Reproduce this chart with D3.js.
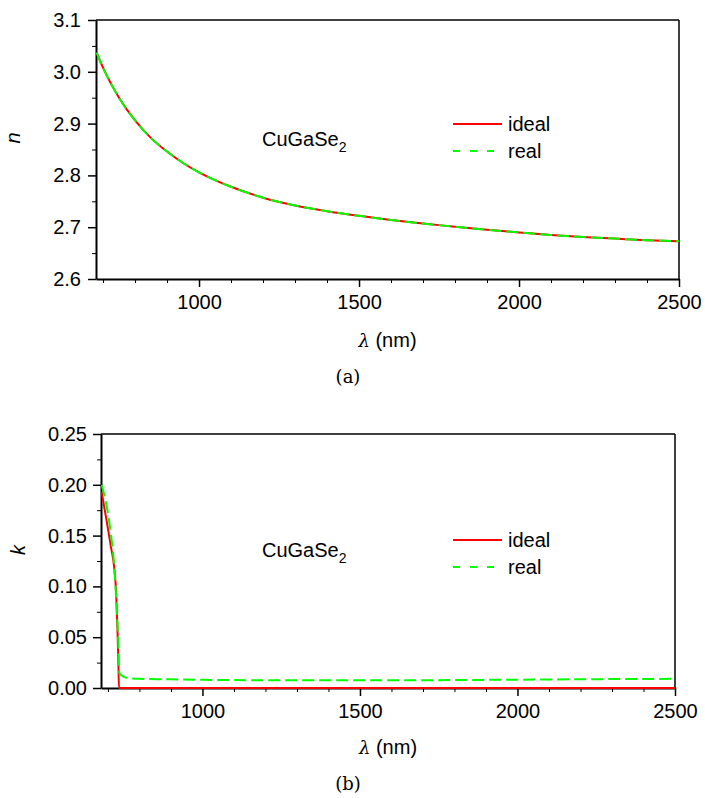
<!DOCTYPE html>
<html>
<head>
<meta charset="utf-8">
<script src="https://cdn.jsdelivr.net/npm/d3@7"></script>
<style>
  body { margin: 0; background: #fff; }
  text { font-family: "Liberation Sans", Arial, sans-serif; }
</style>
</head>
<body>
<div id="chart"></div>
<script>
// wavelength grid for n (nm)
var lambdaN = [680, 700, 750, 800, 850, 900, 950, 1000, 1050, 1100, 1200, 1300, 1400, 1500,
               1600, 1700, 1800, 1900, 2000, 2100, 2200, 2300, 2400, 2500];
var nIdeal = [3.037, 3.008, 2.950, 2.906, 2.872, 2.846, 2.824, 2.806, 2.791, 2.778, 2.757, 2.742,
              2.731, 2.722, 2.714, 2.707, 2.701, 2.695, 2.690, 2.685, 2.681, 2.678, 2.675, 2.673];
var nReal = [3.037, 3.008, 2.950, 2.906, 2.872, 2.846, 2.824, 2.806, 2.791, 2.778, 2.757, 2.742,
             2.731, 2.722, 2.714, 2.707, 2.701, 2.695, 2.690, 2.685, 2.681, 2.678, 2.675, 2.673];

// k curves
var lambdaKIdeal = [680, 690, 700, 710, 717, 722, 726, 730, 733, 735, 740, 1000, 1500, 2000, 2500];
var kIdeal = [0.193, 0.175, 0.157, 0.138, 0.126, 0.112, 0.094, 0.060, 0.028, 0.0, 0.0, 0.0, 0.0, 0.0, 0.0];
var lambdaKReal = [680, 690, 700, 710, 720, 728, 733, 736, 745, 760, 800, 900, 1000, 1200, 1500, 1800, 2000, 2200, 2500];
var kReal = [0.200, 0.188, 0.172, 0.150, 0.120, 0.077, 0.044, 0.015, 0.012, 0.010, 0.009, 0.0085,
             0.008, 0.0077, 0.0076, 0.0078, 0.0082, 0.0086, 0.009];

var xMajor = [1000, 1500, 2000, 2500];
var xMinor = [700, 800, 900, 1100, 1200, 1300, 1400, 1600, 1700, 1800, 1900, 2100, 2200, 2300, 2400];
var nMajor = [2.6, 2.7, 2.8, 2.9, 3.0, 3.1];
var nMinor = [2.65, 2.75, 2.85, 2.95, 3.05];
var kMajor = [0.00, 0.05, 0.10, 0.15, 0.20, 0.25];
var kMinor = [0.025, 0.075, 0.125, 0.175, 0.225];

var svg = d3.select("#chart").append("svg")
    .attr("width", 705)
    .attr("height", 798);

function panel(o) {
  var x = d3.scaleLinear().domain([678, 2500]).range([o.left, o.right]);
  var y = d3.scaleLinear().domain(o.ydom).range([o.bottom, o.top]);
  var g = svg.append("g");

  // frame top/right
  g.append("line").attr("x1", o.left).attr("x2", o.right).attr("y1", o.top).attr("y2", o.top)
    .attr("stroke", "#000").attr("stroke-width", 1.5);
  g.append("line").attr("x1", o.right).attr("x2", o.right).attr("y1", o.top).attr("y2", o.bottom)
    .attr("stroke", "#000").attr("stroke-width", 1.5);

  // minor ticks
  g.append("g").attr("transform", "translate(0," + o.bottom + ")")
    .call(d3.axisBottom(x).tickValues(xMinor).tickSize(4).tickFormat(""))
    .call(function(s) { s.select(".domain").remove(); });
  g.append("g").attr("transform", "translate(" + o.left + ",0)")
    .call(d3.axisLeft(y).tickValues(o.yMinor).tickSize(4).tickFormat(""))
    .call(function(s) { s.select(".domain").remove(); });

  // major axes
  var xa = g.append("g").attr("transform", "translate(0," + o.bottom + ")")
    .call(d3.axisBottom(x).tickValues(xMajor).tickSize(8).tickSizeOuter(0).tickPadding(8)
      .tickFormat(d3.format("d")));
  var ya = g.append("g").attr("transform", "translate(" + o.left + ",0)")
    .call(d3.axisLeft(y).tickValues(o.yMajor).tickSize(8).tickSizeOuter(0).tickPadding(o.ypad)
      .tickFormat(d3.format(o.yfmt)));
  [xa, ya].forEach(function(a) {
    a.selectAll("text").attr("font-size", 20).attr("fill", "#000")
      .style("font-family", "'Liberation Sans', Arial, sans-serif");
    a.selectAll("line").attr("stroke-width", 1.5);
    a.select(".domain").attr("stroke-width", 2);
  });

  var clip = "clip" + o.id;
  svg.append("clipPath").attr("id", clip).append("rect")
    .attr("x", o.left).attr("y", o.top - 2).attr("width", o.right - o.left).attr("height", o.bottom - o.top + 3);

  o.series.forEach(function(s) {
    var pts = s.lx.map(function(l, i) { return [l, s.v[i]]; });
    g.append("path").datum(pts)
      .attr("clip-path", "url(#" + clip + ")")
      .attr("fill", "none")
      .attr("stroke", s.color)
      .attr("stroke-width", 2)
      .attr("stroke-dasharray", s.dash)
      .attr("d", d3.line().curve(d3.curveMonotoneX)
        .x(function(d) { return x(d[0]); })
        .y(function(d) { return y(d[1]); }));
  });

  // y label
  g.append("text").attr("transform", "translate(" + (o.left - 76) + "," + o.ylabY + ") rotate(-90)")
    .attr("text-anchor", "middle").attr("font-size", 20).attr("font-style", "italic").text(o.ylab);

  // x label
  var xl = g.append("text").attr("x", (o.left + o.right) / 2).attr("y", o.xlabY)
    .attr("text-anchor", "middle").attr("font-size", 20);
  xl.append("tspan").attr("font-family", "'DejaVu Serif', serif").attr("font-style", "italic")
    .attr("font-size", 18).text("λ");
  xl.append("tspan").text(" (nm)");

  // compound label
  var cl = g.append("text").attr("x", 262).attr("y", o.compY).attr("font-size", 20);
  cl.append("tspan").text("CuGaSe");
  cl.append("tspan").attr("font-size", 14).attr("dy", 6).text("2");

  // legend
  var leg = [{name: "ideal", color: "#ff0000", dash: null, dy: 0},
             {name: "real", color: "#00ff00", dash: "7,10", dy: 27}];
  leg.forEach(function(l) {
    g.append("line").attr("x1", 453).attr("x2", 502)
      .attr("y1", o.legY + l.dy).attr("y2", o.legY + l.dy)
      .attr("stroke", l.color).attr("stroke-width", 2).attr("stroke-dasharray", l.dash);
    g.append("text").attr("x", 508).attr("y", o.legY + l.dy + 7).attr("font-size", 20).text(l.name);
  });

  // caption
  g.append("text").attr("x", 348).attr("y", o.capY).attr("text-anchor", "middle")
    .attr("font-size", 18).style("font-family", "'DejaVu Serif', 'Liberation Serif', serif")
    .text(o.cap);
}

panel({
  id: "a", left: 96, right: 679, top: 20, bottom: 279,
  ydom: [2.6, 3.1], yMajor: nMajor, yMinor: nMinor, yfmt: ".1f", ypad: 7,
  ylab: "n", ylabY: 138, xlabY: 347, compY: 146, legY: 124, capY: 383, cap: "(a)",
  series: [
    {lx: lambdaN, v: nIdeal, color: "#ff0000", dash: null},
    {lx: lambdaN, v: nReal, color: "#00ff00", dash: "12,5"}
  ]
});

panel({
  id: "b", left: 101, right: 675, top: 434, bottom: 688,
  ydom: [0, 0.25], yMajor: kMajor, yMinor: kMinor, yfmt: ".2f", ypad: 6,
  ylab: "k", ylabY: 550, xlabY: 754, compY: 557, legY: 540, capY: 790, cap: "(b)",
  series: [
    {lx: lambdaKIdeal, v: kIdeal, color: "#ff0000", dash: null},
    {lx: lambdaKReal, v: kReal, color: "#00ff00", dash: "12,5"}
  ]
});
</script>
</body>
</html>
